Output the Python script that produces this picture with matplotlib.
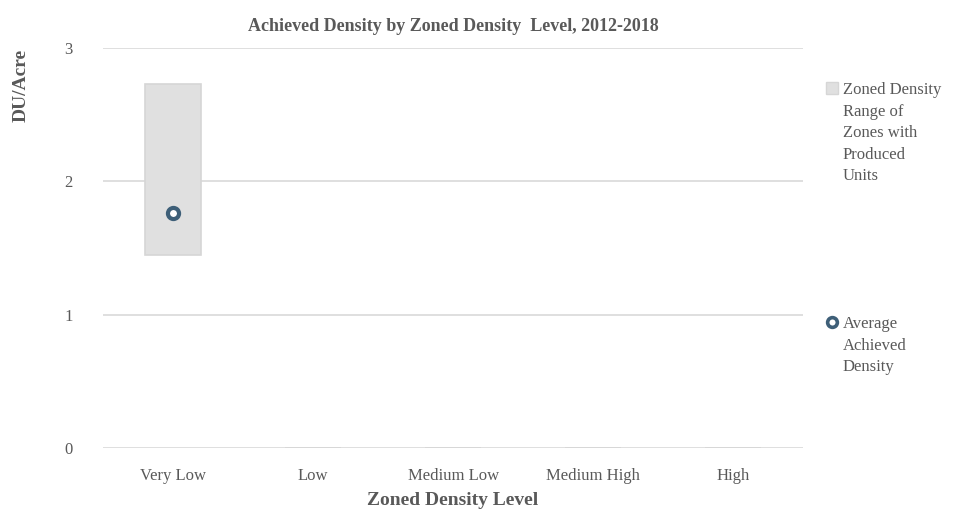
import matplotlib
matplotlib.use("Agg")
import matplotlib.pyplot as plt
import numpy as np
from matplotlib.lines import Line2D
from matplotlib.patches import Patch

# data
levels = ["Very Low", "Low", "Medium Low", "Medium High", "High"]
range_low = [1.45, 0, 0, 0, 0]
range_high = [2.73, 0, 0, 0, 0]
avg_density = [1.76, np.nan, np.nan, np.nan, np.nan]

plt.rcParams['font.family'] = ['Liberation Serif', 'DejaVu Serif']
txt = '#595959'
grid = '#d9d9d9'
bar_c = '#e0e0e0'
dot_c = '#3e5f78'

fig = plt.figure(figsize=(9.62, 5.11), dpi=100)
ax = fig.add_axes([0.107, 0.123, 0.728, 0.783])

x = np.arange(len(levels))
heights = np.array(range_high) - np.array(range_low)
ax.bar(x, heights, bottom=range_low, width=0.4, color=bar_c,
       edgecolor='#d6d6d6', linewidth=1.2, zorder=2)
ax.plot(x, avg_density, linestyle='none', marker='o', markersize=8,
        markerfacecolor='white', markeredgecolor=dot_c, markeredgewidth=3, zorder=3)

ax.set_xlim(-0.5, len(levels) - 0.5)
ax.set_ylim(0, 3)
ax.set_yticks([0, 1, 2, 3])
ax.set_xticks(x)
ax.set_xticklabels(levels)
ax.yaxis.grid(True, color=grid, linewidth=1.2, zorder=0)
ax.set_axisbelow(True)
for s in ax.spines.values():
    s.set_visible(False)
ax.tick_params(axis='both', length=0, labelsize=12, colors=txt)
ax.tick_params(axis='y', pad=22)
ax.tick_params(axis='x', pad=14)

ax.set_title("Achieved Density by Zoned Density  Level, 2012-2018",
             fontsize=13, fontweight='bold', color=txt, pad=12)
ax.set_xlabel("Zoned Density Level", fontsize=14, fontweight='bold', color=txt, labelpad=6)
ax.set_ylabel("DU/Acre", fontsize=14, fontweight='bold', color=txt)
ax.yaxis.set_label_coords(-0.105, 0.907)

h1 = Patch(facecolor=bar_c, edgecolor='#d6d6d6')
h2 = Line2D([], [], linestyle='none', marker='o', markersize=7,
            markerfacecolor='white', markeredgecolor=dot_c, markeredgewidth=2.6)
leg1 = fig.legend([h1], ["Zoned Density\nRange of\nZones with\nProduced\nUnits"],
                  loc='upper left', bbox_to_anchor=(0.843, 0.868), frameon=False,
                  fontsize=12, handlelength=0.7, handleheight=0.7, handletextpad=0.3,
                  labelcolor=txt)
leg2 = fig.legend([h2], ["Average\nAchieved\nDensity"],
                  loc='upper left', bbox_to_anchor=(0.843, 0.41), frameon=False,
                  fontsize=12, handlelength=0.7, handletextpad=0.3, labelcolor=txt)
for leg in (leg1, leg2):
    for t in leg.get_texts():
        t.set_linespacing(1.45)
    # put handle next to the first text line
    for col in leg._legend_handle_box.get_children():
        for entry in col.get_children():
            entry.align = 'top'

fig.savefig("out.png", dpi=100, facecolor='white')
